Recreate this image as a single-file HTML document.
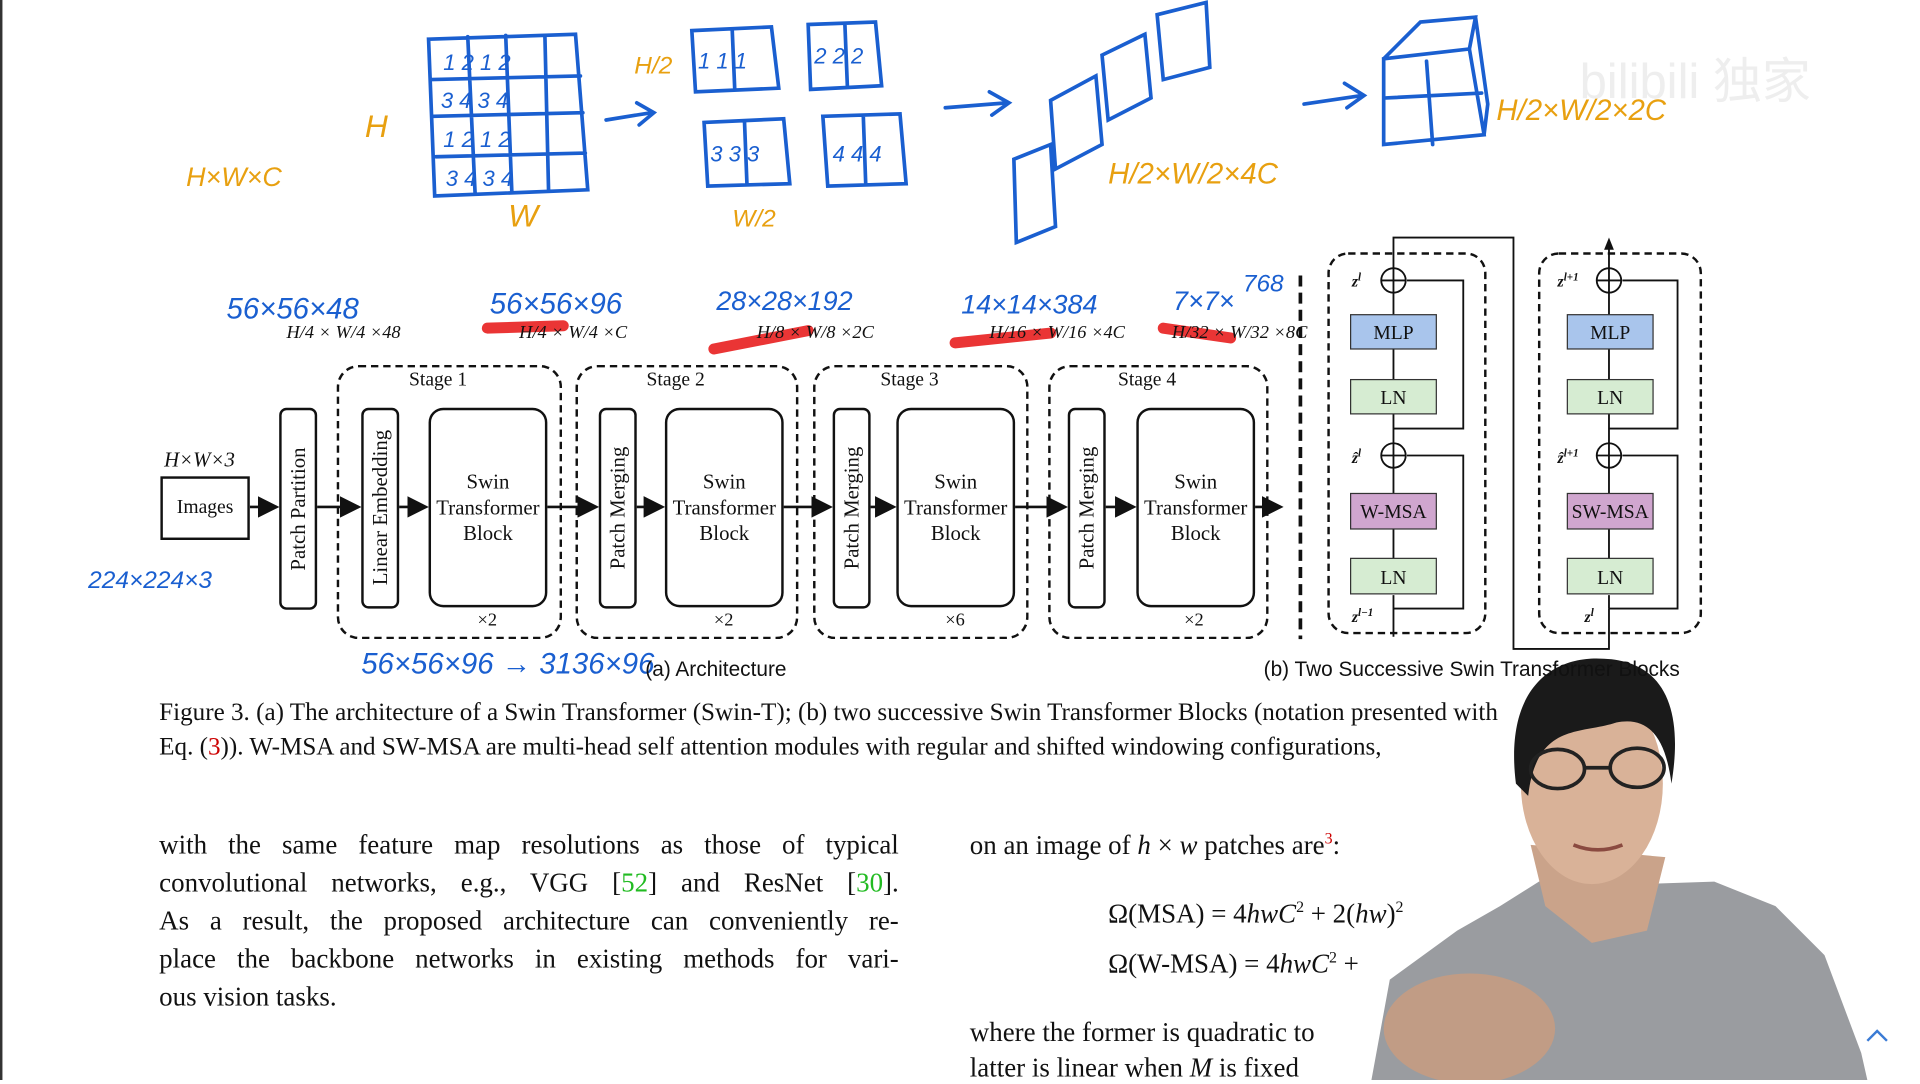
<!DOCTYPE html>
<html><head><meta charset="utf-8"><style>
html,body{margin:0;padding:0;background:#fff;overflow:hidden}
#w{position:absolute;left:0;top:0;width:1568px;height:882px;transform:scale(1.22449);transform-origin:0 0;background:#fff;font-family:"Liberation Serif",serif;color:#111}
.a{position:absolute}
.box{position:absolute;border:2px solid #111;border-radius:6px;background:#fff;box-sizing:border-box}
.vt{position:absolute;writing-mode:vertical-rl;transform:rotate(180deg);font-size:17px;text-align:center;box-sizing:border-box}
.stg{position:absolute;border:2px dashed #111;border-radius:18px;box-sizing:border-box}
.swin{position:absolute;border:2px solid #111;border-radius:12px;box-sizing:border-box;font-size:17px;text-align:center;display:flex;align-items:center;justify-content:center;line-height:21px}
.t{position:absolute;white-space:nowrap}
.bl{position:absolute;left:130px;width:604px;font-size:22px;text-align:justify;text-align-last:justify;white-space:nowrap}
</style></head><body><div id="w">
<svg class="a" style="left:0;top:0" width="1568" height="882">
<defs><marker id="ar" markerWidth="8" markerHeight="8" refX="7" refY="4" orient="auto"><path d="M0,0L8,4L0,8z" fill="#111"/></marker></defs>
<line x1="1" y1="0" x2="1" y2="882" stroke="#333" stroke-width="2"/>
<g stroke="#1a5fd0" stroke-width="3" fill="none" stroke-linecap="round">
<path d="M350,32 L470,28 L480,155 L355,160 Z M352,65 L474,62 M354,95 L476,92 M356,128 L478,125 M382,30 L388,158 M413,29 L418,157 M445,29 L448,156"/>
<path d="M495,98 L532,92 M520,84 L534,92 L522,102"/>
<path d="M565,25 L630,22 L636,72 L568,75 Z M598,25 L600,72 M660,20 L715,18 L720,70 L662,73 Z M690,20 L692,70 M575,100 L640,97 L645,150 L578,152 Z M608,99 L610,150 M672,95 L735,93 L740,150 L676,152 Z M705,94 L707,150"/>
<path d="M772,88 L822,84 M808,75 L824,84 L810,94"/>
<path d="M828,130 L858,118 L862,185 L830,198 Z M858,82 L895,62 L900,118 L862,138 Z M900,45 L935,28 L940,80 L905,98 Z M945,12 L985,2 L988,55 L950,65 Z"/>
<path d="M1065,85 L1112,78 M1098,68 L1114,78 L1100,88"/>
<path d="M1130,48 L1200,40 L1212,110 L1130,118 Z M1130,48 L1160,18 L1205,14 L1200,40 M1205,14 L1215,85 L1212,110 M1165,50 L1170,118 M1132,80 L1210,76"/>
</g>
<g fill="#1a5fd0" font-family="Liberation Sans,sans-serif" font-style="italic">
<text x="362" y="57" font-size="18">1  2  1  2</text><text x="360" y="88" font-size="18">3  4  3  4</text><text x="362" y="120" font-size="18">1  2  1  2</text><text x="364" y="152" font-size="18">3  4  3  4</text>
<text x="570" y="56" font-size="18">1 1 1</text><text x="665" y="52" font-size="18">2 2 2</text><text x="580" y="132" font-size="18">3 3 3</text><text x="680" y="132" font-size="18">4 4 4</text>
<text x="185" y="260" font-size="24">56×56×48</text>
<text x="400" y="256" font-size="24">56×56×96</text>
<text x="585" y="253" font-size="22">28×28×192</text>
<text x="785" y="256" font-size="22">14×14×384</text>
<text x="958" y="253" font-size="22">7×7×</text><text x="1015" y="238" font-size="20">768</text>
<text x="72" y="480" font-size="20">224×224×3</text>
<text x="295" y="550" font-size="24">56×56×96 → 3136×96</text>
</g>
<g fill="#e8a010" font-family="Liberation Sans,sans-serif" font-style="italic">
<text x="152" y="152" font-size="22">H×W×C</text>
<text x="298" y="112" font-size="26">H</text>
<text x="415" y="185" font-size="26">W</text>
<text x="518" y="60" font-size="20">H/2</text>
<text x="598" y="185" font-size="20">W/2</text>
<text x="905" y="150" font-size="24">H/2×W/2×4C</text>
<text x="1222" y="98" font-size="24">H/2×W/2×2C</text>
</g>
<text x="1290" y="80" font-size="40" fill="#eee" font-family="Liberation Sans,sans-serif">bilibili 独家</text>
<g stroke="#e82020" stroke-width="9" stroke-linecap="round" opacity="0.9">
<line x1="398" y1="268" x2="460" y2="266"/><line x1="583" y1="285" x2="660" y2="270"/><line x1="780" y1="280" x2="858" y2="272"/><line x1="950" y1="268" x2="1005" y2="276"/>
</g>
<g stroke="#111" stroke-width="2.2" marker-end="url(#ar)">
<line x1="204" y1="414" x2="226" y2="414"/><line x1="259" y1="414" x2="293" y2="414"/><line x1="326" y1="414" x2="348" y2="414"/>
<line x1="447" y1="414" x2="487" y2="414"/><line x1="520" y1="414" x2="541" y2="414"/><line x1="640" y1="414" x2="678" y2="414"/>
<line x1="711" y1="414" x2="730" y2="414"/><line x1="829" y1="414" x2="870" y2="414"/><line x1="903" y1="414" x2="926" y2="414"/>
<line x1="1025" y1="414" x2="1046" y2="414"/>
</g>
<line x1="1062" y1="225" x2="1062" y2="522" stroke="#111" stroke-width="3" stroke-dasharray="9,5"/>
<rect x="1085" y="207" width="128" height="310" rx="16" fill="none" stroke="#111" stroke-width="2" stroke-dasharray="6,4"/>
<rect x="1257" y="207" width="132" height="310" rx="16" fill="none" stroke="#111" stroke-width="2" stroke-dasharray="6,4"/>
<g stroke="#111" stroke-width="1.5" fill="none">
<path d="M1138,219 L1138,194 L1236,194 L1236,530 L1314,530 L1314,497"/>
<path d="M1314,219 L1314,196"/>
<path d="M1138,520 L1138,486 M1138,456 L1138,432 M1138,403 L1138,382 M1138,362 L1138,338 M1138,310 L1138,285 M1138,257 L1138,239"/>
<path d="M1138,497 L1195,497 L1195,372 L1149,372 M1138,350 L1195,350 L1195,229 L1149,229"/>
<path d="M1314,486 L1314,497 M1314,456 L1314,432 M1314,403 L1314,382 M1314,362 L1314,338 M1314,310 L1314,285 M1314,257 L1314,239"/>
<path d="M1314,497 L1370,497 L1370,372 L1325,372 M1314,350 L1370,350 L1370,229 L1325,229"/>
<circle cx="1138" cy="229" r="10"/><circle cx="1138" cy="372" r="10"/><circle cx="1314" cy="229" r="10"/><circle cx="1314" cy="372" r="10"/>
<path d="M1128,229H1148M1138,219V239M1128,372H1148M1138,362V382M1304,229H1324M1314,219V239M1304,372H1324M1314,362V382"/>
</g>
<path d="M1310,204 L1314,194 L1318,204z" fill="#111"/>
<rect x="1103" y="257" width="70" height="28" fill="#a9c5ec" stroke="#333"/><rect x="1280" y="257" width="70" height="28" fill="#a9c5ec" stroke="#333"/>
<rect x="1103" y="310" width="70" height="28" fill="#d6ecd2" stroke="#333"/><rect x="1280" y="310" width="70" height="28" fill="#d6ecd2" stroke="#333"/>
<rect x="1103" y="403" width="70" height="29" fill="#d0a6cf" stroke="#333"/><rect x="1280" y="403" width="70" height="29" fill="#d0a6cf" stroke="#333"/>
<rect x="1103" y="456" width="70" height="29" fill="#d6ecd2" stroke="#333"/><rect x="1280" y="456" width="70" height="29" fill="#d6ecd2" stroke="#333"/>
<g font-size="16" text-anchor="middle" font-family="Liberation Serif,serif" fill="#111">
<text x="1138" y="277">MLP</text><text x="1315" y="277">MLP</text><text x="1138" y="330">LN</text><text x="1315" y="330">LN</text>
<text x="1138" y="423">W-MSA</text><text x="1315" y="423">SW-MSA</text><text x="1138" y="477">LN</text><text x="1315" y="477">LN</text>
</g>
<g font-size="13" font-style="italic" font-weight="bold" fill="#111">
<text x="1104" y="234">z<tspan font-size="9" dy="-5">l</tspan></text><text x="1104" y="378">ẑ<tspan font-size="9" dy="-5">l</tspan></text><text x="1104" y="508">z<tspan font-size="9" dy="-5">l−1</tspan></text>
<text x="1272" y="234">z<tspan font-size="9" dy="-5">l+1</tspan></text><text x="1272" y="378">ẑ<tspan font-size="9" dy="-5">l+1</tspan></text><text x="1294" y="508">z<tspan font-size="9" dy="-5">l</tspan></text>
</g>
<path d="M1120,882 L1135,800 L1190,760 L1225,740 L1260,718 L1340,722 L1400,720 L1450,740 L1490,780 L1520,860 L1525,882 Z" fill="#9a9ca0"/>
<path d="M1250,690 L1262,740 L1300,770 L1345,760 L1360,700 Z" fill="#caa38a"/>
<ellipse cx="1300" cy="640" rx="58" ry="82" fill="#d9b298"/>
<path d="M1238,640 C1228,560 1270,535 1310,538 C1360,540 1375,580 1365,640 C1360,600 1345,585 1320,590 C1290,600 1255,590 1248,650 Z" fill="#1a1a1a"/>
<g stroke="#222" stroke-width="3" fill="none"><ellipse cx="1272" cy="628" rx="22" ry="16"/><ellipse cx="1337" cy="627" rx="22" ry="16"/><line x1="1294" y1="627" x2="1315" y2="627"/></g>
<path d="M1285,690 Q1305,698 1325,690" stroke="#8a4a40" stroke-width="3" fill="none"/>
<ellipse cx="1200" cy="840" rx="70" ry="45" fill="#c89c80" opacity="0.85"/>
<path d="M1525,850 l8,-8 l8,8" stroke="#3a7bd5" stroke-width="2" fill="none"/>
</svg>
<div class="t" style="left:134px;top:366px;font-size:17px;font-style:italic">H×W×3</div>
<div class="box" style="left:131px;top:389px;width:73px;height:52px;border-radius:0;font-size:16px;text-align:center;line-height:48px">Images</div>
<div class="box vt" style="left:228px;top:333px;width:31px;height:165px;line-height:27px">Patch Partition</div>
<div class="stg" style="left:275px;top:298px;width:184px;height:224px"></div>
<div class="stg" style="left:470px;top:298px;width:182px;height:224px"></div>
<div class="stg" style="left:664px;top:298px;width:176px;height:224px"></div>
<div class="stg" style="left:856px;top:298px;width:180px;height:224px"></div>
<div class="t" style="left:334px;top:302px;font-size:16px">Stage 1</div>
<div class="t" style="left:528px;top:302px;font-size:16px">Stage 2</div>
<div class="t" style="left:719px;top:302px;font-size:16px">Stage 3</div>
<div class="t" style="left:913px;top:302px;font-size:16px">Stage 4</div>
<div class="box vt" style="left:295px;top:333px;width:31px;height:164px;line-height:27px">Linear Embedding</div>
<div class="box vt" style="left:489px;top:333px;width:31px;height:164px;line-height:27px">Patch Merging</div>
<div class="box vt" style="left:680px;top:333px;width:31px;height:164px;line-height:27px">Patch Merging</div>
<div class="box vt" style="left:872px;top:333px;width:31px;height:164px;line-height:27px">Patch Merging</div>
<div class="swin" style="left:350px;top:333px;width:97px;height:163px">Swin<br>Transformer<br>Block</div>
<div class="swin" style="left:543px;top:333px;width:97px;height:163px">Swin<br>Transformer<br>Block</div>
<div class="swin" style="left:732px;top:333px;width:97px;height:163px">Swin<br>Transformer<br>Block</div>
<div class="swin" style="left:928px;top:333px;width:97px;height:163px">Swin<br>Transformer<br>Block</div>
<div class="t" style="left:390px;top:499px;font-size:15px">×2</div>
<div class="t" style="left:583px;top:499px;font-size:15px">×2</div>
<div class="t" style="left:772px;top:499px;font-size:15px">×6</div>
<div class="t" style="left:967px;top:499px;font-size:15px">×2</div>
<div class="t" style="left:234px;top:264px;font-size:15px;font-style:italic">H/4 × W/4 ×48</div>
<div class="t" style="left:424px;top:264px;font-size:15px;font-style:italic">H/4 × W/4 ×C</div>
<div class="t" style="left:618px;top:264px;font-size:15px;font-style:italic">H/8 × W/8 ×2C</div>
<div class="t" style="left:808px;top:264px;font-size:15px;font-style:italic">H/16 × W/16 ×4C</div>
<div class="t" style="left:957px;top:264px;font-size:15px;font-style:italic">H/32 × W/32 ×8C</div>
<div class="t" style="left:527px;top:537px;font-size:17px;font-family:'Liberation Sans',sans-serif">(a) Architecture</div>
<div class="t" style="left:1032px;top:537px;font-size:17px;font-family:'Liberation Sans',sans-serif">(b) Two Successive Swin Transformer Blocks</div>
<div class="t" style="left:130px;top:571px;font-size:20.5px">Figure 3. (a) The architecture of a Swin Transformer (Swin-T); (b) two successive Swin Transformer Blocks (notation presented with</div>
<div class="t" style="left:130px;top:599px;font-size:20.5px">Eq. (<span style="color:#c00">3</span>)). W-MSA and SW-MSA are multi-head self attention modules with regular and shifted windowing configurations,</div>
<div class="bl" style="top:677px">with the same feature map resolutions as those of typical</div>
<div class="bl" style="top:708px">convolutional networks, e.g., VGG [<span style="color:#2b2">52</span>] and ResNet [<span style="color:#2b2">30</span>].</div>
<div class="bl" style="top:739px">As a result, the proposed architecture can conveniently re-</div>
<div class="bl" style="top:770px">place the backbone networks in existing methods for vari-</div>
<div class="t" style="left:130px;top:801px;font-size:22px">ous vision tasks.</div>
<div class="t" style="left:792px;top:677px;font-size:22px">on an image of <i>h</i> × <i>w</i> patches are<sup style="color:#c00;font-size:13px">3</sup>:</div>
<div class="t" style="left:905px;top:733px;font-size:22px">Ω(MSA) = 4<i>hwC</i><sup style="font-size:13px">2</sup> + 2(<i>hw</i>)<sup style="font-size:13px">2</sup></div>
<div class="t" style="left:905px;top:774px;font-size:22px">Ω(W-MSA) = 4<i>hwC</i><sup style="font-size:13px">2</sup> +</div>
<div class="t" style="left:792px;top:830px;font-size:22px">where the former is quadratic to</div>
<div class="t" style="left:792px;top:859px;font-size:22px">latter is linear when <i>M</i> is fixed</div>
</div></body></html>
